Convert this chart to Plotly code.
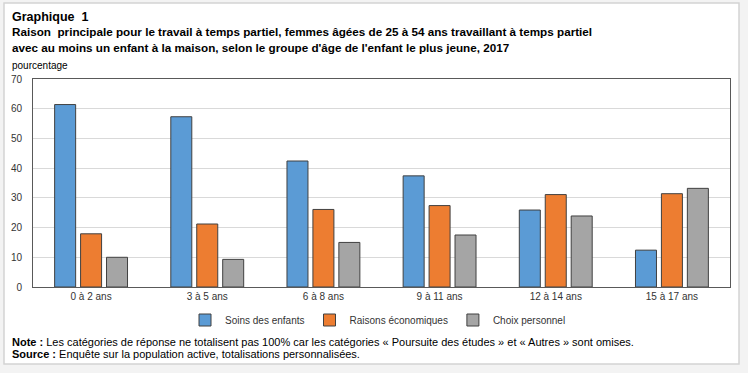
import plotly.graph_objects as go

categories = ["0 à 2 ans", "3 à 5 ans", "6 à 8 ans", "9 à 11 ans", "12 à 14 ans", "15 à 17 ans"]
soins = [61.4, 57.3, 42.4, 37.4, 25.9, 12.4]
economiques = [17.9, 21.2, 26.1, 27.4, 31.1, 31.4]
choix = [10.0, 9.3, 15.0, 17.5, 23.9, 33.2]
series_names = ["Soins des enfants", "Raisons économiques", "Choix personnel"]
colors = ["#5B9BD5", "#ED7D31", "#A5A5A5"]
y_ticks = [0, 10, 20, 30, 40, 50, 60, 70]

W, H = 748, 373
L, R, T, B = 33, 18, 79, 86
PW, PH = W - L - R, H - T - B


def px(x):
    return (x - L) / PW


def py(y):
    return (H - B - y) / PH


FONT = "Liberation Sans Narrow, Liberation Sans, Arial"

fig = go.Figure()
for name, vals, col in zip(series_names, [soins, economiques, choix], colors):
    fig.add_trace(go.Bar(
        x=categories, y=vals, name=name,
        marker=dict(color=col, line=dict(color="#404040", width=1)),
    ))

fig.update_layout(
    width=W, height=H,
    margin=dict(l=L, r=R, t=T, b=B, autoexpand=False),
    paper_bgcolor="#f3f3f3",
    plot_bgcolor="white",
    barmode="group",
    bargap=0.33,
    bargroupgap=0.19,
    font=dict(family=FONT, size=10, color="#333333"),
    showlegend=True,
    legend=dict(
        orientation="h", x=px(378), xanchor="center", y=py(320), yanchor="middle",
        font=dict(size=10, color="#333333"), bgcolor="rgba(0,0,0,0)",
        itemwidth=30, traceorder="normal",
    ),
    xaxis=dict(
        showline=True, mirror=True, linecolor="#595959", linewidth=1,
        showgrid=False, ticks="", tickfont=dict(size=10, color="#333333"),
    ),
    yaxis=dict(
        range=[0, 70], tickvals=y_ticks, showline=True, mirror=True,
        linecolor="#595959", linewidth=1, gridcolor="#d9d9d9", gridwidth=1,
        ticks="", ticklabelstandoff=8, tickfont=dict(size=10, color="#333333"),
        zeroline=False,
    ),
)

# outer white frame
fig.add_shape(
    type="rect", xref="paper", yref="paper", layer="below",
    x0=px(4), x1=px(739), y0=py(364), y1=py(3),
    fillcolor="white", line=dict(color="#d4d4d4", width=1.5),
)

ann = [
    (10, 17, "<b>Graphique  1</b>", 12.5),
    (10, 32, "<b>Raison  principale pour le travail à temps partiel, femmes âgées de 25 à 54 ans travaillant à temps partiel</b>", 11.7),
    (10, 47, "<b>avec au moins un enfant à la maison, selon le groupe d'âge de l'enfant le plus jeune, 2017</b>", 11.7),
    (10, 65, "pourcentage", 10),
    (10, 342, "<b>Note :</b> Les catégories de réponse ne totalisent pas 100% car les catégories « Poursuite des études » et « Autres » sont omises.", 11),
    (10, 354, "<b>Source :</b> Enquête sur la population active, totalisations personnalisées.", 11),
]
for x, y, text, size in ann:
    fig.add_annotation(
        x=px(x), y=py(y), xref="paper", yref="paper", text=text,
        showarrow=False, xanchor="left", yanchor="middle",
        font=dict(family=FONT, size=size, color="#000000"),
    )

fig.write_html(
    "out.html",
    config={"displayModeBar": False},
    post_script="document.body.style.margin='0';document.body.style.overflow='hidden';",
)
